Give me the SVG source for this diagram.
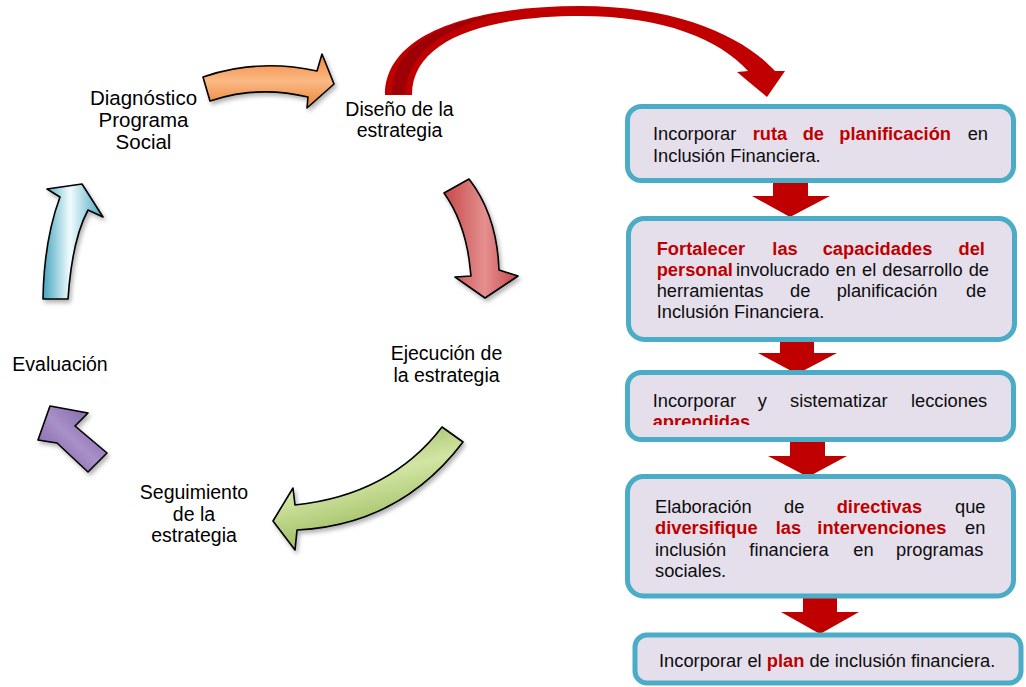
<svg xmlns="http://www.w3.org/2000/svg" width="1026" height="687" viewBox="0 0 1026 687">
<style>
.lbl{font-family:"Liberation Sans",Arial,sans-serif;font-size:19.5px;fill:#000;text-anchor:middle}
.bt{font-family:"Liberation Sans",Arial,sans-serif;font-size:18.3px;fill:#0d0d0d}
.r{fill:#C00000;font-weight:bold}
.box{fill:#E5DFEC;stroke:#4BACC6;stroke-width:5}
.down{fill:#C00000}
.gl{stroke:#000;stroke-width:1.6;stroke-linejoin:round;filter:url(#sh)}
</style>
<defs>
<filter id="sh" x="-20%" y="-20%" width="150%" height="150%">
<feDropShadow dx="2" dy="3" stdDeviation="2" flood-color="#000" flood-opacity="0.3"/>
</filter>
<linearGradient id="gO" x1="0" y1="0" x2="0" y2="1">
<stop offset="0" stop-color="#F0883A"/><stop offset="0.5" stop-color="#FBB985"/><stop offset="1" stop-color="#E98436"/>
</linearGradient>
<linearGradient id="gR" x1="0" y1="0" x2="1" y2="0">
<stop offset="0" stop-color="#C4484A"/><stop offset="0.55" stop-color="#E58F8F"/><stop offset="1" stop-color="#C4484A"/>
</linearGradient>
<linearGradient id="gG" x1="0.2" y1="0" x2="0.6" y2="1">
<stop offset="0" stop-color="#8DB04A"/><stop offset="0.45" stop-color="#D2E5A4"/><stop offset="1" stop-color="#88AC45"/>
</linearGradient>
<linearGradient id="gP" x1="0" y1="1" x2="1" y2="0">
<stop offset="0" stop-color="#76589B"/><stop offset="0.5" stop-color="#A890C8"/><stop offset="1" stop-color="#76589B"/>
</linearGradient>
<linearGradient id="gB" x1="0" y1="0" x2="1" y2="0">
<stop offset="0" stop-color="#45A5C0"/><stop offset="0.45" stop-color="#F2FCFE"/><stop offset="1" stop-color="#45A5C0"/>
</linearGradient>
<clipPath id="c3"><rect x="620" y="360" width="400" height="65"/></clipPath>
</defs>

<g id="connectors">
<path id="arc-arrow" d="M385,95 C385,30 480,6 580,6 C680,6 745,38 775,71 L785,71 L767,97 L737,72 L748,71 C720,40 665,16 580,16 C490,16 412,38 412,95 Z" fill="#C00000"/>
<path d="M392,94 C392,50 430,25 505,12 C445,28 408,50 405,94 Z" fill="#9C0006"/>
<path class="down" d="M773,180 H808 V196 H830 L790,217 L752,196 H773 Z"/>
<path class="down" d="M780,337 H814 V353 H837 L797,374 L758,353 H780 Z"/>
<path class="down" d="M790,440 H825 V456 H847 L808,477 L768,456 H790 Z"/>
<path class="down" d="M803,597 H837 V612 H859 L820,634 L781,612 H803 Z"/>
</g>

<g id="cycle-arrows">
<path class="gl" fill="url(#gO)" d="M203,77 Q258,58 317,71 L322,54 L334,84 L307,108 L308,97 Q258,85 210,101 Z"/>
<path class="gl" fill="url(#gR)" d="M444,193 L469,179 Q497,215 499,270 L518,276 L485,298 L455,277 L471,276 Q467,225 444,193 Z"/>
<path class="gl" fill="url(#gG)" d="M442,427 Q390,495 295,505 L293,488 L273,521 L295,550 L297,530 Q400,525 463,442 Z"/>
<path class="gl" fill="url(#gP)" d="M50,406 L88,413 L75,426 L107,453 L88,472 L57,443 L38,440 Z"/>
<path class="gl" fill="url(#gB)" d="M43,299 Q44,240 60,197 L47,189 L82,184 L103,217 L88,210 Q72,240 68,299 Z"/>
</g>

<g id="n-diagnostico" style="font-size:20.5px"><text class="lbl" style="font-size:20.5px" x="143.5" y="105">Diagnóstico</text><text class="lbl" style="font-size:20.5px" x="143.5" y="127">Programa</text><text class="lbl" style="font-size:20.5px" x="143.5" y="149">Social</text></g>
<g id="n-diseno"><text class="lbl" x="399.5" y="116">Diseño de la</text><text class="lbl" x="399.5" y="137">estrategia</text></g>
<g id="n-ejecucion"><text class="lbl" x="446.5" y="360">Ejecución de</text><text class="lbl" x="446.5" y="382">la estrategia</text></g>
<g id="n-seguimiento"><text class="lbl" x="194" y="499">Seguimiento</text><text class="lbl" x="194" y="521">de la</text><text class="lbl" x="194" y="542">estrategia</text></g>
<g id="n-evaluacion"><text class="lbl" x="60" y="371">Evaluación</text></g>

<g id="box1">
<rect class="box" x="627.5" y="106.5" width="386" height="74" rx="14"/>
<text class="bt" y="140"><tspan x="653">Incorporar</tspan><tspan class="r" x="752.7">ruta</tspan><tspan class="r" x="802.7">de</tspan><tspan class="r" x="839.3">planificación</tspan><tspan x="967.7">en</tspan></text>
<text class="bt" x="653" y="162">Inclusión Financiera.</text>
</g>
<g id="box2">
<rect class="box" x="628.5" y="218.5" width="386" height="121" rx="16"/>
<text class="bt" y="255"><tspan class="r" x="656.7">Fortalecer</tspan><tspan class="r" x="772.3">las</tspan><tspan class="r" x="822.7">capacidades</tspan><tspan class="r" x="958.5">del</tspan></text>
<text class="bt" y="276"><tspan class="r" x="656.7">personal</tspan><tspan x="736" word-spacing="1">involucrado en el desarrollo de</tspan></text>
<text class="bt" y="297"><tspan x="656.7">herramientas</tspan><tspan x="790">de</tspan><tspan x="836.7">planificación</tspan><tspan x="966">de</tspan></text>
<text class="bt" x="656.7" y="318">Inclusión Financiera.</text>
</g>
<g id="box3">
<rect class="box" x="627.5" y="372.5" width="386" height="67" rx="14"/>
<text class="bt" y="407"><tspan x="652.7">Incorporar</tspan><tspan x="757.7">y</tspan><tspan x="790">sistematizar</tspan><tspan x="911">lecciones</tspan></text>
<text class="bt r" x="652.7" y="428" clip-path="url(#c3)">aprendidas</text>
</g>
<g id="box4">
<rect class="box" x="627.5" y="476.5" width="386" height="119.5" rx="16"/>
<text class="bt" y="513"><tspan x="655">Elaboración</tspan><tspan x="784">de</tspan><tspan class="r" x="836.7">directivas</tspan><tspan x="955">que</tspan></text>
<text class="bt" y="534"><tspan class="r" x="655">diversifique</tspan><tspan class="r" x="775.7">las</tspan><tspan class="r" x="817.3">intervenciones</tspan><tspan x="965">en</tspan></text>
<text class="bt" y="556"><tspan x="655">inclusión</tspan><tspan x="749.3">financiera</tspan><tspan x="853.3">en</tspan><tspan x="896">programas</tspan></text>
<text class="bt" x="655" y="577">sociales.</text>
</g>
<g id="box5">
<rect class="box" x="635" y="635" width="386" height="48" rx="12"/>
<text class="bt" x="659" y="667">Incorporar el <tspan class="r">plan</tspan> de inclusión financiera.</text>
</g>
</svg>
